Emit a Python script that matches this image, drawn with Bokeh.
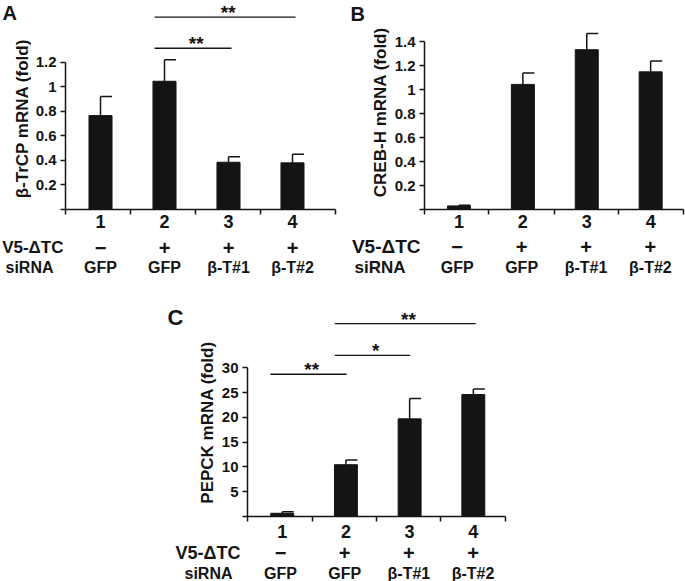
import math
from bokeh.plotting import figure
from bokeh.models import FixedTicker, Range1d
from bokeh.layouts import column, row
from bokeh.embed import file_html
from bokeh.resources import INLINE
from bokeh.core.properties import value

# ---------------- data ----------------
lanes = [1, 2, 3, 4]
lane_labels = ["1", "2", "3", "4"]
v5_labels = ["\u2212", "+", "+", "+"]
sirna_labels = ["GFP", "GFP", "\u03b2-T#1", "\u03b2-T#2"]
row_names = ["V5-\u0394TC", "siRNA"]

a_vals = [0.765, 1.045, 0.385, 0.38]
a_err = [0.155, 0.175, 0.045, 0.07]
a_ticks = [0, 0.2, 0.4, 0.6, 0.8, 1.0, 1.2]
a_tick_labels = ["", "0.2", "0.4", "0.6", "0.8", "1", "1.2"]
a_sig_x0 = [1.844, 1.844]
a_sig_x1 = [3.047, 4.047]
a_sig_y = [1.314, 1.567]
a_sig_marks = ["**", "**"]

b_vals = [0.03, 1.045, 1.335, 1.15]
b_err = [0.006, 0.095, 0.135, 0.09]
b_ticks = [0, 0.2, 0.4, 0.6, 0.8, 1.0, 1.2, 1.4]
b_tick_labels = ["", "0.2", "0.4", "0.6", "0.8", "1", "1.2", "1.4"]

c_vals = [0.65, 10.45, 19.7, 24.6]
c_err = [0.3, 0.95, 4.1, 1.1]
c_ticks = [0, 5, 10, 15, 20, 25, 30]
c_tick_labels = ["", "5", "10", "15", "20", "25", "30"]
c_sig_x0 = [0.813, 1.826, 1.826]
c_sig_x1 = [2.012, 3.009, 4.037]
c_sig_y = [28.7, 32.5, 38.9]
c_sig_marks = ["**", "*", "**"]

FONT = "Liberation Sans"
NARROW = "'Liberation Sans Narrow', 'Liberation Sans', sans-serif"
INK = "#141414"
BAR_W = 0.36


def blank(width, height, x_range, y_range):
    f = figure(width=width, height=height, x_range=x_range, y_range=y_range,
               output_backend="svg", toolbar_location=None,
               x_axis_type=None, y_axis_type=None,
               min_border_left=0, min_border_right=0,
               min_border_top=0, min_border_bottom=0)
    f.outline_line_color = None
    f.grid.visible = False
    return f


def txt(f, x, y, s, size, align="center", base="middle", angle=0.0):
    f.text(x=x, y=y, text=s, angle=angle, text_align=align, text_baseline=base,
           text_font=value(FONT), text_font_style="bold",
           text_font_size=size, text_color=INK)


def make_panel(vals, errs, ticks, tick_labels, ylabel, letter,
               strip_w, main_w, top_h, rows_h, left, right, bottom,
               x_start, x_end, y_end, boundaries,
               letter_px, letter_size, ylabel_px, rows_y, names_right,
               v5_size, si_size, sig=None, lane_standoff=0):
    # ---- main plot ----
    p = figure(width=main_w, height=top_h,
               x_range=Range1d(x_start, x_end), y_range=Range1d(0, y_end),
               output_backend="svg", toolbar_location=None,
               min_border_left=left, min_border_right=right,
               min_border_top=0, min_border_bottom=bottom)
    p.outline_line_color = None
    p.grid.visible = False
    frame_w = main_w - left - right
    ppx = frame_w / (x_end - x_start)

    tops = [v + e for v, e in zip(vals, errs)]
    p.vbar(x=lanes, top=vals, width=BAR_W, fill_color=INK, line_color=INK)
    p.segment(x0=lanes, y0=vals, x1=lanes, y1=tops, line_color=INK, line_width=1.5)
    p.segment(x0=lanes, y0=tops, x1=[x + BAR_W / 2 for x in lanes], y1=tops,
              line_color=INK, line_width=1.5)

    if sig is not None:
        x0, x1, ys, marks = sig
        p.segment(x0=x0, y0=ys, x1=x1, y1=ys, line_color=INK, line_width=1.3)
        p.text(x=[(a + b) / 2 + 0.05 for a, b in zip(x0, x1)], y=ys, text=marks,
               text_align="center", text_baseline="top", y_offset=-15,
               text_font=value(FONT), text_font_style="bold",
               text_font_size="19px", text_color=INK)

    ya = p.yaxis[0]
    ya.ticker = FixedTicker(ticks=ticks)
    ya.bounds = (0, ticks[-1])
    ya.major_label_overrides = dict(zip(ticks, tick_labels))
    ya.major_tick_out = 5
    ya.major_tick_in = 0
    ya.minor_tick_line_color = None
    ya.axis_line_width = 1.5
    ya.axis_line_color = INK
    ya.major_tick_line_width = 1.5
    ya.major_tick_line_color = INK
    ya.major_label_text_font = NARROW
    ya.major_label_text_font_style = "bold"
    ya.major_label_text_font_size = "15px"
    ya.major_label_text_color = INK
    ya.major_label_standoff = 4

    xa = p.xaxis[0]
    xa.ticker = FixedTicker(ticks=lanes, minor_ticks=boundaries)
    xa.major_label_overrides = dict(zip(lanes, lane_labels))
    xa.major_tick_out = 0
    xa.major_tick_in = 0
    xa.minor_tick_out = 5
    xa.minor_tick_in = 0
    xa.minor_tick_line_width = 1.5
    xa.minor_tick_line_color = INK
    xa.axis_line_width = 1.5
    xa.axis_line_color = INK
    xa.major_label_text_font = FONT
    xa.major_label_text_font_style = "bold"
    xa.major_label_text_font_size = "18px"
    xa.major_label_text_color = INK
    xa.major_label_standoff = lane_standoff

    # ---- left strip: panel letter + y axis title (pixel coordinates) ----
    s = blank(strip_w, top_h, Range1d(0, strip_w), Range1d(top_h, 0))
    txt(s, [letter_px[0]], [letter_px[1]], [letter], letter_size, "left", "top")
    txt(s, [ylabel_px[0]], [ylabel_px[1]], [ylabel], "17px", angle=math.pi / 2)

    # ---- bottom strip: treatment rows, aligned with the lanes ----
    total_w = strip_w + main_w
    r_start = x_start - (strip_w + left) / ppx
    r = blank(total_w, rows_h, Range1d(r_start, r_start + total_w / ppx),
              Range1d(rows_h, 0))
    txt(r, lanes, [rows_y[0]] * 4, v5_labels, "20px")
    txt(r, lanes, [rows_y[1]] * 4, sirna_labels, "16px")
    txt(r, [r_start + names_right[0] / ppx], [rows_y[0]], [row_names[0]],
        v5_size, "right")
    txt(r, [r_start + names_right[1] / ppx], [rows_y[1]], [row_names[1]],
        si_size, "right")

    return column(row(s, p), r)


panelA = make_panel(a_vals, a_err, a_ticks, a_tick_labels,
                    "\u03b2-TrCP mRNA (fold)", "A",
                    strip_w=31, main_w=310, top_h=232, rows_h=48,
                    left=34, right=6, bottom=23,
                    x_start=0.453, x_end=4.672, y_end=1.703,
                    boundaries=[0.455, 1.47, 2.48, 3.5, 4.665],
                    letter_px=(2, 2), letter_size="20px", ylabel_px=(22, 131),
                    rows_y=(15, 35), names_right=(63, 53),
                    v5_size="17px", si_size="16px",
                    sig=(a_sig_x0, a_sig_x1, a_sig_y, a_sig_marks))

panelB = make_panel(b_vals, b_err, b_ticks, b_tick_labels,
                    "CREB-H mRNA (fold)", "B",
                    strip_w=50, main_w=294, top_h=232, rows_h=48,
                    left=31, right=2, bottom=23,
                    x_start=0.461, x_end=4.514, y_end=1.746,
                    boundaries=[0.463, 1.47, 2.5, 3.5, 4.51],
                    letter_px=(9, 3), letter_size="20px", ylabel_px=(39, 124),
                    rows_y=(14, 35), names_right=(79, 64),
                    v5_size="19px", si_size="17px")

panelC = make_panel(c_vals, c_err, c_ticks, c_tick_labels,
                    "PEPCK mRNA (fold)", "C",
                    strip_w=218, main_w=467, top_h=261, rows_h=40,
                    left=27, right=180, bottom=25,
                    x_start=0.455, x_end=4.505, y_end=47.61,
                    boundaries=[0.457, 1.47, 2.48, 3.49, 4.5],
                    letter_px=(167, 27), letter_size="22px", ylabel_px=(207, 157),
                    rows_y=(11, 32), names_right=(240, 232),
                    v5_size="18px", si_size="16px",
                    sig=(c_sig_x0, c_sig_x1, c_sig_y, c_sig_marks),
                    lane_standoff=3)

layout = column(row(panelA, panelB), panelC)
open("out.html", "w").write(file_html(layout, INLINE))
